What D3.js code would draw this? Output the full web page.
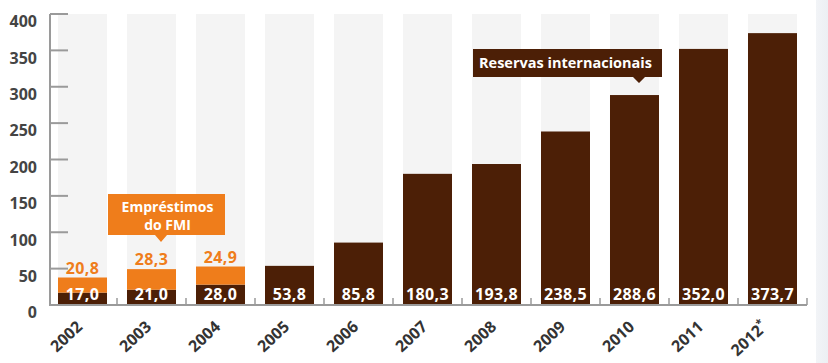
<!DOCTYPE html>
<html>
<head>
<meta charset="utf-8">
<script src="https://cdn.jsdelivr.net/npm/d3@7"></script>
<style>
  html, body { margin: 0; padding: 0; background: #fff; }
  svg { display: block; font-family: "Open Sans", "DejaVu Sans", sans-serif; }
</style>
</head>
<body>
<svg id="chart" width="828" height="363"></svg>
<script>
// Brazil: international reserves and IMF loans (US$ billion)
const years = ["2002", "2003", "2004", "2005", "2006", "2007", "2008", "2009", "2010", "2011", "2012*"];
const reserves = [17.0, 21.0, 28.0, 53.8, 85.8, 180.3, 193.8, 238.5, 288.6, 352.0, 373.7];
const imfLoans = [20.8, 28.3, 24.9, null, null, null, null, null, null, null, null];
const yTicks = [0, 50, 100, 150, 200, 250, 300, 350, 400];

const fmt = v => v.toFixed(1).replace(".", ",");

const BROWN = "#4c1f06";
const ORANGE = "#ef7d1b";

const svg = d3.select("#chart");

// faint panel on the right edge
const defs = svg.append("defs");
const grad = defs.append("linearGradient").attr("id", "edge").attr("x1", 0).attr("x2", 1);
grad.append("stop").attr("offset", "0%").attr("stop-color", "#f2f4f7");
grad.append("stop").attr("offset", "100%").attr("stop-color", "#eceff3");
svg.append("rect").attr("x", 816).attr("y", 0).attr("width", 12).attr("height", 363).attr("fill", "url(#edge)");

const x = d3.scaleBand().domain(years).range([48, 807]).paddingInner(20 / 69).paddingOuter(0.145);
const y = d3.scaleLinear().domain([0, 400]).range([305, 14]);

// grey column behind every bar
svg.append("g").selectAll("rect").data(years).join("rect")
  .attr("x", d => x(d)).attr("width", x.bandwidth())
  .attr("y", y(400)).attr("height", y(0) - y(400))
  .attr("fill", "#f4f4f4");

// reserves bars
svg.append("g").selectAll("rect").data(years).join("rect")
  .attr("x", d => x(d)).attr("width", x.bandwidth())
  .attr("y", (d, i) => y(reserves[i])).attr("height", (d, i) => y(0) - y(reserves[i]))
  .attr("fill", BROWN);

// IMF loans stacked on top
const imfIdx = years.map((d, i) => i).filter(i => imfLoans[i] != null);
svg.append("g").selectAll("rect").data(imfIdx).join("rect")
  .attr("x", i => x(years[i])).attr("width", x.bandwidth())
  .attr("y", i => y(reserves[i] + imfLoans[i]))
  .attr("height", i => y(reserves[i]) - y(reserves[i] + imfLoans[i]))
  .attr("fill", ORANGE);

// value labels
svg.append("g").selectAll("text").data(years).join("text")
  .attr("x", d => x(d) + x.bandwidth() / 2).attr("y", 300)
  .attr("text-anchor", "middle").attr("fill", "#fff")
  .attr("font-size", 16).attr("font-weight", 700).attr("letter-spacing", 0.4)
  .text((d, i) => fmt(reserves[i]));

svg.append("g").selectAll("text").data(imfIdx).join("text")
  .attr("x", i => x(years[i]) + x.bandwidth() / 2)
  .attr("y", i => y(reserves[i] + imfLoans[i]) - 4)
  .attr("text-anchor", "middle").attr("fill", ORANGE)
  .attr("font-size", 16).attr("font-weight", 700).attr("letter-spacing", 0.4)
  .text(i => fmt(imfLoans[i]));

// y axis
const axisColor = "#9a9a9a";
const yAxis = d3.axisLeft(y).tickValues(yTicks).tickSize(0).tickPadding(0);
const gy = svg.append("g").attr("transform", "translate(50,0)").call(yAxis);
gy.select(".domain").remove();
gy.selectAll(".tick line").remove();
gy.selectAll(".tick text")
  .attr("x", -13).attr("dy", "0.8em")
  .attr("font-family", "'Open Sans', sans-serif")
  .attr("font-size", 16).attr("font-weight", 700).attr("fill", "#444");
svg.append("line").attr("x1", 50).attr("x2", 50).attr("y1", y(400)).attr("y2", y(0))
  .attr("stroke", axisColor).attr("stroke-width", 2);
svg.append("g").selectAll("line").data(yTicks.filter(v => v > 0)).join("line")
  .attr("x1", 50).attr("x2", 68).attr("y1", d => y(d)).attr("y2", d => y(d))
  .attr("stroke", axisColor).attr("stroke-width", 2);

// x axis
svg.append("line").attr("x1", 49).attr("x2", 807).attr("y1", y(0)).attr("y2", y(0))
  .attr("stroke", axisColor).attr("stroke-width", 2);
const gap = x.step() - x.bandwidth();
svg.append("g").selectAll("line").data(years).join("line")
  .attr("x1", d => Math.min(x(d) + x.bandwidth() + gap / 2, 807))
  .attr("x2", d => Math.min(x(d) + x.bandwidth() + gap / 2, 807))
  .attr("y1", y(0) - 7).attr("y2", y(0))
  .attr("stroke", axisColor).attr("stroke-width", 1.5);

// rotated year labels; a trailing "*" is set as a small superscript
const yearLabels = svg.append("g").selectAll("text").data(years).join("text")
  .attr("transform", d => `translate(${x(d) + x.bandwidth() / 2 + (d.endsWith("*") ? -4 : 1)},${y(0) + 23}) rotate(-43)`)
  .attr("text-anchor", "end").attr("fill", "#333")
  .attr("font-size", 16).attr("font-weight", 700);
yearLabels.append("tspan").text(d => d.replace("*", ""));
yearLabels.filter(d => d.endsWith("*")).append("tspan")
  .attr("font-size", 11).attr("dy", -6).text("*");

// callout: IMF loans
const c1 = { x: 108, y: 194, w: 117, h: 41, tip: 161 };
svg.append("path")
  .attr("d", `M${c1.x},${c1.y}h${c1.w}v${c1.h}H${c1.tip + 6}l-6,7l-6,-7H${c1.x}Z`)
  .attr("fill", ORANGE);
svg.append("text").attr("x", c1.x + c1.w / 2 + 1).attr("y", 212)
  .attr("text-anchor", "middle").attr("fill", "#fff").attr("font-size", 14).attr("font-weight", 700)
  .text("Empréstimos");
svg.append("text").attr("x", c1.x + c1.w / 2 + 1).attr("y", 230)
  .attr("text-anchor", "middle").attr("fill", "#fff").attr("font-size", 14).attr("font-weight", 700)
  .text("do FMI");

// callout: international reserves
const c2 = { x: 473, y: 49, w: 189, h: 28, tip: 639 };
svg.append("path")
  .attr("d", `M${c2.x},${c2.y}h${c2.w}v${c2.h}H${c2.tip + 6}l-6,6l-6,-6H${c2.x}Z`)
  .attr("fill", BROWN);
svg.append("text").attr("x", c2.x + c2.w / 2 - 2).attr("y", 68)
  .attr("text-anchor", "middle").attr("fill", "#fff").attr("font-size", 14.5).attr("font-weight", 700)
  .text("Reservas internacionais");
</script>
</body>
</html>
